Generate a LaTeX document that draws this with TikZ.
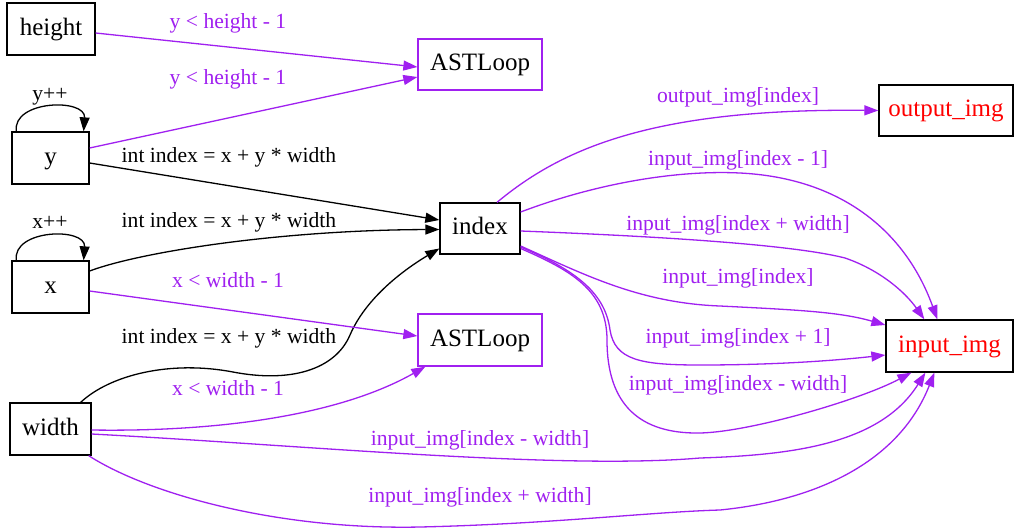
\documentclass[tikz,border=0pt]{standalone}
\usepackage{fontspec}
\setmainfont{Liberation Serif}
\usetikzlibrary{arrows.meta,calc}
\definecolor{gvpurple}{HTML}{A020F0}
\newcommand\gvnodefont{\fontsize{25}{30}\selectfont}
\newcommand\gvlabfont{\fontsize{21.6}{26}\selectfont}
\begin{document}
\begin{tikzpicture}[x=1pt,y=-1pt,
  box/.style={draw, line width=1.3pt, inner sep=0pt, minimum height=52pt,
    font=\gvnodefont, text height=17.5pt, text depth=5pt},
  pbox/.style={box, draw=gvpurple},
  rbox/.style={box, text=red},
  be/.style={line width=1.3pt, -{Triangle[length=14pt,width=10pt]}},
  pe/.style={be, draw=gvpurple},
  lab/.style={font=\gvlabfont, inner sep=0pt, anchor=base},
  plab/.style={lab, text=gvpurple}]
\fill[white] (0,0) rectangle (1014,528);
\useasboundingbox (0,0) rectangle (1014,528);

% nodes
\node[box, minimum width=88pt] (height) at (51,29) {height};
\node[pbox, minimum width=124pt, minimum height=51pt] (astA) at (480,64.5) {ASTLoop};
\node[box, minimum width=77pt] (y) at (50.5,158) {y};
\node[rbox, minimum width=134pt, minimum height=51pt] (out) at (946,110.5) {output\_img};
\node[box, minimum width=80pt, minimum height=51pt] (index) at (480,228.5) {index};
\node[box, minimum width=77pt] (x) at (50.5,287) {x};
\node[pbox, minimum width=124pt] (astB) at (480,340) {ASTLoop};
\node[rbox, minimum width=127pt] (inp) at (949.5,346) {input\_img};
\node[box, minimum width=81pt] (width) at (50.5,429) {width};

% edges into ASTLoop (top)
\draw[pe] ($(height.east)+(0,4)$) -- ($(astA.west)+(0,2.5)$);
\draw[pe] ($(y.east)+(0,-10)$) -- ($(astA.west)+(0,12.5)$);

% self loops
\draw[be] ($(y.north west)+(5,0)$) .. controls (12,100) and (86,98) .. ($(y.north east)+(-6,0)$);
\draw[be] ($(x.north west)+(5,0)$) .. controls (12,229) and (86,227) .. ($(x.north east)+(-6,0)$);

% edges into index
\draw[be] ($(y.east)+(0,5)$) -- ($(index.west)+(0,-8.5)$);
\draw[be] ($(x.east)+(0,-16)$) .. controls (140,252) and (280,230) .. ($(index.west)+(0,1)$);
\draw[be] ($(width.north east)+(-11,0)$) .. controls (110,375) and (170,360) .. (233,372)
  .. controls (290,383) and (335,370) .. (350,335)
  .. controls (365,300) and (400,272) .. ($(index.west)+(0,20)$);

% edges into ASTLoop (bottom)
\draw[pe] ($(x.east)+(0,4)$) -- ($(astB.west)+(0,-4)$);
\draw[pe] ($(width.east)+(0,1)$) .. controls (220,432) and (340,415) .. ($(astB.south west)+(8,0)$);

% width -> input_img
\draw[pe] ($(width.east)+(0,5)$) .. controls (300,445) and (560,470) .. (700,458)
  .. controls (790,455) and (880,445) .. ($(inp.south west)+(40,0)$);
\draw[pe] ($(width.south east)+(-3,0)$) .. controls (150,495) and (280,530) .. (420,527)
  .. controls (550,524) and (650,512) .. (720,510)
  .. controls (820,500) and (900,460) .. ($(inp.south west)+(49,0)$);

% index -> output_img
\draw[pe] ($(index.north)+(17,0)$) .. controls (560,150) and (650,108) .. (out.west);

% index -> input_img
\draw[pe] ($(index.east)+(0,-16.5)$) .. controls (600,182) and (680,170) .. (740,173)
  .. controls (840,178) and (905,230) .. ($(inp.north west)+(52,0)$);
\draw[pe] ($(index.east)+(0,2.5)$) .. controls (650,236) and (790,244) .. (845,258)
  .. controls (880,270) and (905,292) .. ($(inp.north west)+(39,0)$);
\draw[pe] ($(index.east)+(0,17.5)$) .. controls (585,275) and (640,303) .. (720,306)
  .. controls (800,310) and (840,312) .. ($(inp.west)+(0,-21)$);
\draw[pe] ($(index.east)+(0,18.5)$) .. controls (570,268) and (605,290) .. (610,330)
  .. controls (615,360) and (640,365) .. (700,365)
  .. controls (780,365) and (840,360) .. ($(inp.west)+(0,9)$);
\draw[pe] ($(index.east)+(0,20)$) .. controls (570,270) and (607,290) .. (607,340)
  .. controls (607,405) and (640,434) .. (700,433)
  .. controls (750,432) and (860,400) .. ($(inp.south west)+(26,0)$);

% labels
\node[plab] (lh1) at (228,28) {y < height - 1};
\node[plab] (lh2) at (228,84) {y < height - 1};
\node[lab] (lypp) at (50,100) {y++};
\node[lab] (li1) at (229,162) {int index = x + y * width};
\node[lab] (lxpp) at (50,228) {x++};
\node[lab] (li2) at (229,227) {int index = x + y * width};
\node[plab] (lx1) at (228,287) {x < width - 1};
\node[lab] (li3) at (229,343) {int index = x + y * width};
\node[plab] (lx2) at (228,395) {x < width - 1};
\node[plab] (lw1) at (480,445) {input\_img[index - width]};
\node[plab] (lw2) at (480,502) {input\_img[index + width]};
\node[plab] (lo) at (738,102) {output\_img[index]};
\node[plab] (lr1) at (738,165) {input\_img[index - 1]};
\node[plab] (lr2) at (738,230) {input\_img[index + width]};
\node[plab] (lr3) at (738,283) {input\_img[index]};
\node[plab] (lr4) at (738,343) {input\_img[index + 1]};
\node[plab] (lr5) at (738,390) {input\_img[index - width]};
\end{tikzpicture}
\end{document}
